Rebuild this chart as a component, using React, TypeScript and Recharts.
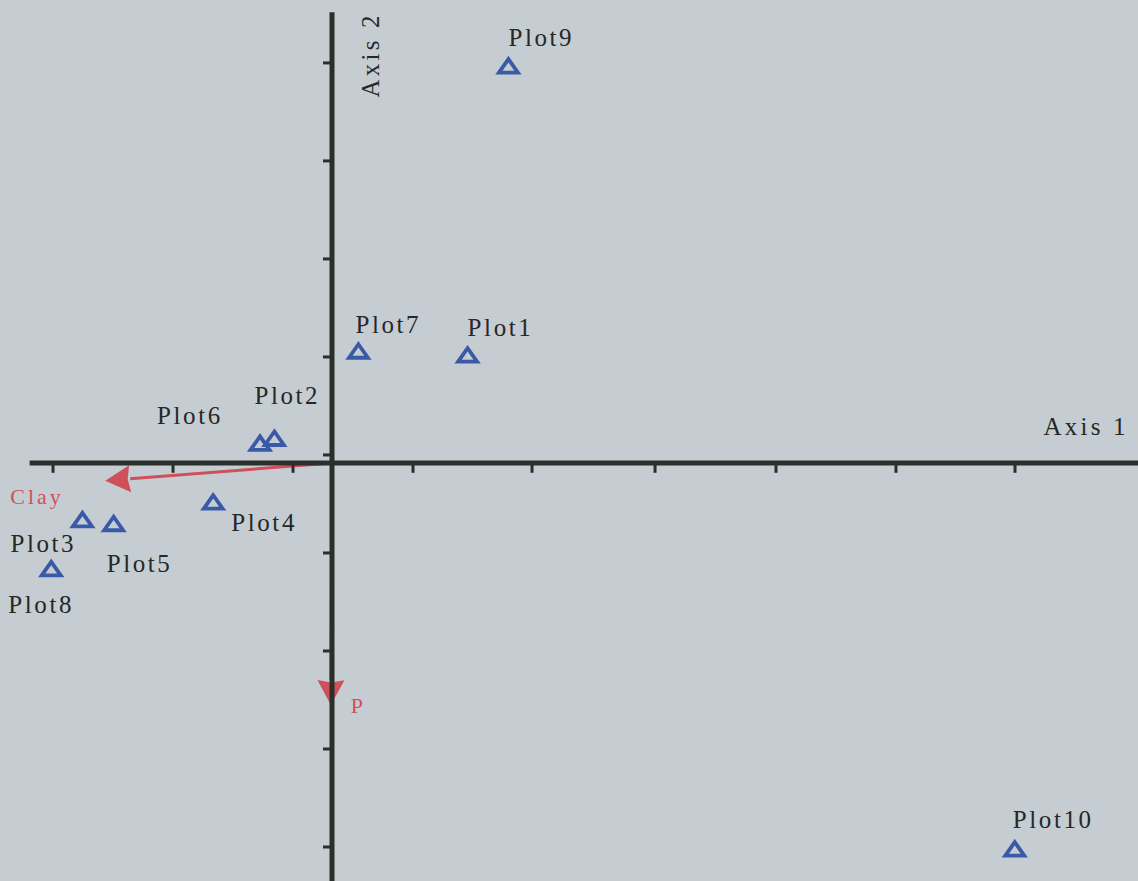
import React from "react";
import {
  ScatterChart,
  Scatter,
  XAxis,
  YAxis,
  ReferenceLine,
  ReferenceDot,
} from "recharts";

// plot scores on the two ordination axes
const plotNames = ["Plot1", "Plot2", "Plot3", "Plot4", "Plot5", "Plot6", "Plot7", "Plot8", "Plot9", "Plot10"];
const axis1Scores = [1.13, -0.48, -2.08, -0.99, -1.82, -0.6, 0.22, -2.34, 1.47, 5.69];
const axis2Scores = [1.1, 0.25, -0.58, -0.4, -0.62, 0.2, 1.14, -1.08, 4.05, -3.94];

// environmental vectors (biplot)
const vectorNames = ["Clay", "P"];
const vectorAxis1 = [-1.89, -0.01];
const vectorAxis2 = [-0.18, -2.47];

// tick marks on the axes
const xTicks = [-2.325, -1.325, -0.325, 0.675, 1.667, 2.692, 3.7, 4.7, 5.692];
const yTicks = [4.082, 3.082, 2.082, 1.082, 0.082, -0.918, -1.918, -2.918, -3.918];

const plotData = plotNames.map((name, i) => ({ name, x: axis1Scores[i], y: axis2Scores[i] }));

const W = 1138;
const H = 881;
const BG = "#c5cdd2";
const AXIS = "#2b2f2c";
const BLUE = "#3a5aa8";
const RED = "#d0505a";
const FONT = "Liberation Serif, Times New Roman, serif";

// where each label sits relative to its triangle (px)
const labelOffset: Record<string, [number, number]> = {
  Plot1: [0, -19],
  Plot2: [-20, -34],
  Plot3: [-72, 32],
  Plot4: [18, 29],
  Plot5: [-7, 48],
  Plot6: [-103, -19],
  Plot7: [-3, -18],
  Plot8: [-43, 44],
  Plot9: [0, -20],
  Plot10: [-2, -21],
};

const vectorLabelOffset: Record<string, [number, number]> = {
  Clay: [-95, 23],
  P: [20, 8],
};

const textStyle = { fontFamily: FONT };

const Triangle = (props: any) => {
  const { cx, cy, payload } = props;
  const [dx, dy] = labelOffset[payload.name] || [0, -18];
  const h = 7;
  const w = 9.5;
  return (
    <g>
      <polygon
        points={`${cx},${cy - h} ${cx - w},${cy + h - 0.5} ${cx + w},${cy + h - 0.5}`}
        fill="none"
        stroke={BLUE}
        strokeWidth={3.8}
      />
      <text x={cx + dx} y={cy + dy} style={textStyle} fontSize={25} letterSpacing={2.6} fill="#262826">
        {payload.name}
      </text>
    </g>
  );
};

const makeArrow = (name: string) => (props: any) => {
  const { x1, y1, x2, y2 } = props;
  const ang = Math.atan2(y2 - y1, x2 - x1);
  const len = 25;
  const half = 13.5;
  const bx = x2 - len * Math.cos(ang);
  const by = y2 - len * Math.sin(ang);
  const nx = -Math.sin(ang);
  const ny = Math.cos(ang);
  const [dx, dy] = vectorLabelOffset[name];
  return (
    <g>
      <line x1={x1} y1={y1} x2={bx} y2={by} stroke={RED} strokeWidth={3} />
      <polygon
        points={`${x2},${y2} ${bx + nx * half},${by + ny * half} ${bx + 2.5 * Math.cos(ang)},${by + 2.5 * Math.sin(ang)} ${bx - nx * half},${by - ny * half}`}
        fill={RED}
      />
      <text x={x2 + dx} y={y2 + dy} style={textStyle} fontSize={22} letterSpacing={3} fill={RED}>
        {name}
      </text>
    </g>
  );
};

const AxisTitle1 = (props: any) => (
  <text x={props.cx} y={props.cy} style={textStyle} fontSize={25} letterSpacing={3.2} fill="#262826">
    Axis 1
  </text>
);

const AxisTitle2 = (props: any) => (
  <text
    x={props.cx}
    y={props.cy}
    style={textStyle}
    fontSize={25}
    letterSpacing={3.2}
    fill="#262826"
    transform={`rotate(-90 ${props.cx} ${props.cy})`}
  >
    Axis 2
  </text>
);

export default function App() {
  return (
    <div style={{ position: "absolute", left: 0, top: 0, width: W, height: H, background: BG }}>
      <ScatterChart width={W} height={H} margin={{ top: 0, right: 0, bottom: 0, left: 0 }}>
        <XAxis type="number" dataKey="x" domain={[-2.767, 6.717]} hide allowDataOverflow />
        <YAxis type="number" dataKey="y" domain={[-4.265, 4.724]} hide allowDataOverflow />

        {vectorNames.map((name, i) => (
          <ReferenceLine
            key={name}
            ifOverflow="visible"
            segment={[
              { x: 0, y: 0 },
              { x: vectorAxis1[i], y: vectorAxis2[i] },
            ]}
            shape={makeArrow(name)}
          />
        ))}

        <ReferenceLine
          ifOverflow="visible"
          segment={[
            { x: -2.52, y: 0 },
            { x: 6.717, y: 0 },
          ]}
          stroke={AXIS}
          strokeWidth={5}
        />
        <ReferenceLine
          ifOverflow="visible"
          segment={[
            { x: 0, y: 4.6 },
            { x: 0, y: -4.265 },
          ]}
          stroke={AXIS}
          strokeWidth={5}
        />

        {xTicks.map((t) => (
          <ReferenceLine
            key={`xt${t}`}
            ifOverflow="visible"
            segment={[
              { x: t, y: 0 },
              { x: t, y: -0.1 },
            ]}
            stroke={AXIS}
            strokeWidth={3}
          />
        ))}
        {yTicks.map((t) => (
          <ReferenceLine
            key={`yt${t}`}
            ifOverflow="visible"
            segment={[
              { x: -0.075, y: t },
              { x: 0, y: t },
            ]}
            stroke={AXIS}
            strokeWidth={3}
          />
        ))}

        <ReferenceDot x={5.93} y={0.29} ifOverflow="visible" shape={AxisTitle1} />
        <ReferenceDot x={0.39} y={3.73} ifOverflow="visible" shape={AxisTitle2} />

        <Scatter data={plotData} shape={Triangle} isAnimationActive={false} />
      </ScatterChart>
    </div>
  );
}
